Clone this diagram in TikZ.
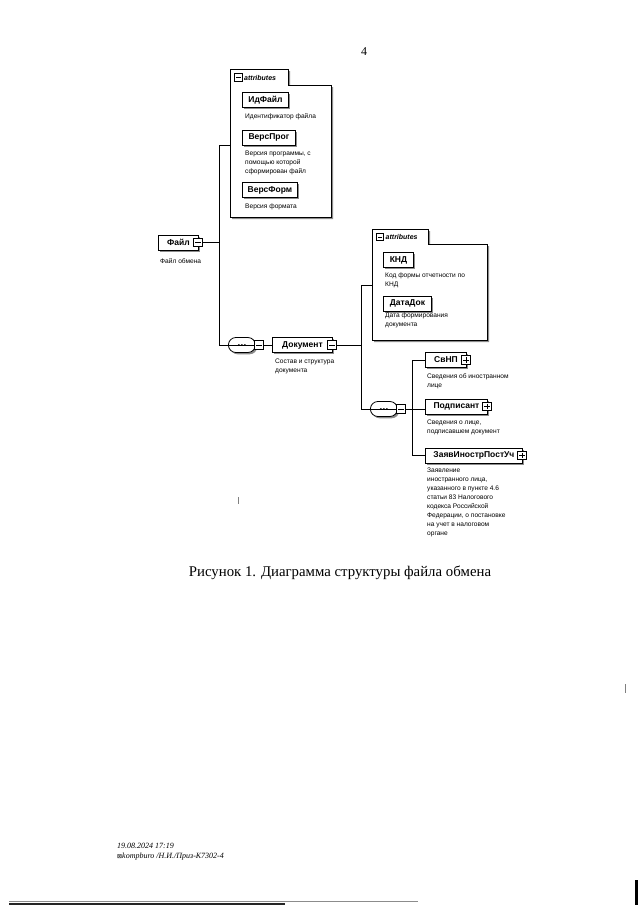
\documentclass[tikz,border=0pt]{standalone}
\usepackage{fontspec}
\setmainfont{Liberation Serif}
\newfontfamily\xsans{Liberation Sans}
\newfontfamily\symf{DejaVu Sans}
\usetikzlibrary{shadows,shapes.misc}
\begin{document}
\begin{tikzpicture}[x=1pt,y=-1pt,
  shadowed/.style={drop shadow={shadow xshift=1.8pt,shadow yshift=-1.8pt,fill=black!45,opacity=1}},
  elem/.style={draw,line width=0.9pt,fill=white,shadowed,font=\xsans\bfseries\fontsize{8.5}{9}\selectfont,minimum height=15pt,inner sep=0pt,anchor=west},
  desc/.style={font=\xsans\fontsize{6.6}{9}\selectfont,align=left,anchor=north west,inner sep=0pt},
  pmbox/.style={draw,line width=0.7pt,fill=white,minimum size=8.5pt,inner sep=0pt},
  minus/.style={pmbox,path picture={\draw[line width=0.7pt] ([xshift=1.6pt]path picture bounding box.west) -- ([xshift=-1.6pt]path picture bounding box.east);}},
  plus/.style={pmbox,path picture={\draw[line width=0.7pt] ([xshift=1.6pt]path picture bounding box.west) -- ([xshift=-1.6pt]path picture bounding box.east) ([yshift=-1.6pt]path picture bounding box.north) -- ([yshift=1.6pt]path picture bounding box.south);}},
  seq/.style={draw,line width=0.8pt,fill=white,shadowed,rounded rectangle,minimum width=27pt,minimum height=15pt,inner sep=0pt,anchor=west},
  seqline/.style={line width=0.6pt},
  conn/.style={line width=0.8pt},
  attrbox/.style={draw=none,inner sep=0pt,anchor=north west},
  tabtext/.style={font=\xsans\bfseries\itshape\fontsize{7}{8}\selectfont,anchor=west,inner sep=0pt},
  artifact/.style={line width=0.6pt,black!50}
]
\useasboundingbox (0,0) rectangle (640,905);
\fill[white] (0,0) rectangle (640,905);

% page number
\node[font=\fontsize{12}{14}\selectfont] (pnum) at (364,52) {4};

% ---------- attributes box 1 ----------
\fill[black!45] (232,71) -- (290,71) -- (290,87) -- (333,87) -- (333,219) -- (232,219) -- cycle;
\draw[line width=0.8pt,fill=white] (230,69) -- (288,69) -- (288,85) -- (331,85) -- (331,217) -- (230,217) -- cycle;
\node[attrbox,minimum width=101pt,minimum height=132pt] (a1) at (230,85) {};
\node[minus,minimum size=7.5pt] (a1m) at (238.5,77.5) {};
\node[tabtext] (a1t) at (244,77.5) {attributes};

\node[elem,minimum width=46pt] (idf) at (242,100) {ИдФайл};
\node[desc] (idfd) at (245,113) {Идентификатор файла};
\node[elem,minimum width=53pt] (vprog) at (242,137.5) {ВерсПрог};
\node[desc] (vprogd) at (245,151) {Версия программы, с\\помощью которой\\сформирован файл};
\node[elem,minimum width=55pt] (vform) at (242,190) {ВерсФорм};
\node[desc] (vformd) at (245,204) {Версия формата};

% ---------- root ----------
\node[elem,minimum width=40pt] (fail) at (158,242.5) {Файл};
\node[minus] (failm) at (198,242.5) {};
\node[desc] (faild) at (160,258) {Файл обмена};
\coordinate (j1) at (219,242.5);
\coordinate (j1t) at (219,145);
\coordinate (j1b) at (219,345);
\draw[conn] (failm.east) -- (j1);
\draw[conn] (j1t) -- (j1b);
\draw[conn] (j1t) -- (j1t -| a1.west);

% ---------- sequence 1 and Документ ----------
\node[seq] (seq1) at (228,345) {};
\draw[seqline] (seq1.west) -- (seq1.east);
\fill (seq1.center) circle (0.95pt) ([xshift=-3pt]seq1.center) circle (0.95pt) ([xshift=3pt]seq1.center) circle (0.95pt);
\node[minus] (seq1m) at (259,345) {};
\draw[conn] (j1b) -- (seq1.west);
\node[elem,minimum width=60pt] (dok) at (272,345) {Документ};
\node[minus] (dokm) at (332,345) {};
\draw[conn] (seq1m.east) -- (dok.west);
\node[desc] (dokd) at (275,359) {Состав и структура\\документа};
\coordinate (j2) at (361,345);
\coordinate (j2t) at (361,285);
\coordinate (j2b) at (361,409);
\draw[conn] (dokm.east) -- (j2);
\draw[conn] (j2t) -- (j2b);

% ---------- attributes box 2 ----------
\fill[black!45] (374,231) -- (430,231) -- (430,246) -- (489,246) -- (489,342) -- (374,342) -- cycle;
\draw[line width=0.8pt,fill=white] (372,229) -- (428,229) -- (428,244) -- (487,244) -- (487,340) -- (372,340) -- cycle;
\node[attrbox,minimum width=115pt,minimum height=96pt] (a2) at (372,244) {};
\node[minus,minimum size=7.5pt] (a2m) at (380,237) {};
\node[tabtext] (a2t) at (385.5,237) {attributes};
\draw[conn] (j2t) -- (j2t -| a2.west);

\node[elem,minimum width=30pt] (knd) at (383,260) {КНД};
\node[desc] (kndd) at (385,273) {Код формы отчетности по\\КНД};
\node[elem,minimum width=48pt] (datadok) at (383,303.5) {ДатаДок};
\node[desc] (datadokd) at (385,313) {Дата формирования\\документа};

% ---------- sequence 2 and children ----------
\node[seq] (seq2) at (370,409) {};
\draw[seqline] (seq2.west) -- (seq2.east);
\fill (seq2.center) circle (0.95pt) ([xshift=-3pt]seq2.center) circle (0.95pt) ([xshift=3pt]seq2.center) circle (0.95pt);
\node[minus] (seq2m) at (401,409) {};
\draw[conn] (j2b) -- (seq2.west);
\coordinate (j3) at (412,409);
\coordinate (j3t) at (412,360);
\coordinate (j3b) at (412,455.5);
\draw[conn] (seq2m.east) -- (j3);
\draw[conn] (j3t) -- (j3b);

\node[elem,minimum width=41pt] (svnp) at (425,360) {СвНП};
\node[plus] (svnpp) at (466,360) {};
\node[desc] (svnpd) at (427,373) {Сведения об иностранном\\лице};
\draw[conn] (j3t) -- (svnp.west);

\node[elem,minimum width=62pt] (podp) at (425,406.5) {Подписант};
\node[plus] (podpp) at (487,406.5) {};
\node[desc] (podpd) at (427,420) {Сведения о лице,\\подписавшем документ};
\draw[conn] (j3) -- (j3 -| podp.west);

\node[elem,minimum width=97pt] (zayav) at (425,455.5) {ЗаявИнострПостУч};
\node[plus] (zayavp) at (522,455.5) {};
\node[desc] (zayavd) at (427,468) {Заявление\\иностранного лица,\\указанного в пункте 4.6\\статьи 83 Налогового\\кодекса Российской\\Федерации, о постановке\\на учет в налоговом\\органе};
\draw[conn] (j3b) -- (zayav.west);

% ---------- caption ----------
\node[font=\fontsize{14.8}{18}\selectfont] (cap) at (340,573) {Рисунок 1. Диаграмма структуры файла обмена};

% ---------- footer ----------
\node[font=\itshape\fontsize{8}{9.5}\selectfont,anchor=north west,inner sep=0pt,align=left] (foot) at (117,843) {19.08.2024 17:19\\{\symf\fontsize{6}{7}\selectfont ⊠}kompburo /Н.И./Приз-К7302-4};

% ---------- scan artifacts ----------
\draw[artifact] (238,497) -- (238,504);
\draw[artifact] (625,684) -- (625,693);
\draw[line width=1pt,black!45] (9,901.5) -- (418,901.5);
\draw[line width=1.8pt,black!85] (9,904) -- (285,904);
\draw[line width=3pt,black] (636,880) -- (636,905);
\end{tikzpicture}
\end{document}
